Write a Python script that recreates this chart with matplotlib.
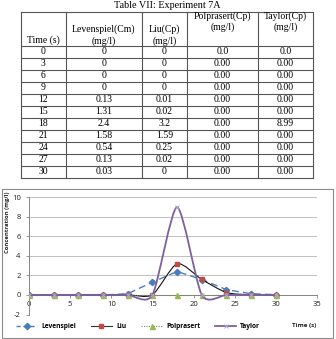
import matplotlib
matplotlib.use("Agg")
import matplotlib.pyplot as plt
import numpy as np
from matplotlib.path import Path
from matplotlib.patches import PathPatch, Rectangle
from matplotlib.lines import Line2D

# ---------------- data ----------------
time_s = [0, 3, 6, 9, 12, 15, 18, 21, 24, 27, 30]
levenspiel = [0, 0, 0, 0, 0.13, 1.31, 2.4, 1.58, 0.54, 0.13, 0.03]
liu = [0, 0, 0, 0, 0.01, 0.02, 3.2, 1.59, 0.25, 0.02, 0]
polprasert = [0, 0, 0, 0, 0, 0, 0, 0, 0, 0, 0]
taylor = [0, 0, 0, 0, 0, 0, 8.99, 0, 0, 0, 0]

table_title = "Table VII: Experiment 7A"
col_headers = [["Time (s)"], ["Levenspiel(Cm)", "(mg/l)"], ["Liu(Cp)", "(mg/l)"],
               ["Polprasert(Cp)", "(mg/l)"], ["Taylor(Cp)", "(mg/l)"]]
time_txt = [str(t) for t in time_s]
lev_txt = ["0", "0", "0", "0", "0.13", "1.31", "2.4", "1.58", "0.54", "0.13", "0.03"]
liu_txt = ["0", "0", "0", "0", "0.01", "0.02", "3.2", "1.59", "0.25", "0.02", "0"]
pol_txt = ["0.0"] + ["0.00"] * 10
tay_txt = ["0.0", "0.00", "0.00", "0.00", "0.00", "0.00", "8.99", "0.00", "0.00", "0.00", "0.00"]

series_names = ["Levenspiel", "Liu", "Polprasert", "Taylor"]
x_ticks = [0, 5, 10, 15, 20, 25, 30, 35]
y_ticks = [-2, 0, 2, 4, 6, 8, 10]

# ---------------- figure ----------------
W, H = 336, 339
plt.rcParams["font.family"] = ["Open Sans", "DejaVu Sans"]
fig = plt.figure(figsize=(W / 100, H / 100), dpi=100)

# overlay axes in pixel coordinates for table and chart frame
ov = fig.add_axes([0, 0, 1, 1])
ov.set_xlim(0, W)
ov.set_ylim(H, 0)
ov.axis("off")

serif = ["Liberation Serif", "DejaVu Serif"]
fs_tab = 7.0

ov.text(167.5, 5.5, table_title, ha="center", va="center", fontsize=7.3, family=serif)

col_x = [20.7, 66, 141.7, 187, 258, 313.3]
top, head_bot = 12.3, 45.7
row_h = 12.0
n_rows = len(time_s)
bottom = head_bot + row_h * n_rows
lc = "#555555"
for cx in col_x:
    ov.plot([cx, cx], [top, bottom], color=lc, lw=0.8)
ov.plot([col_x[0], col_x[-1]], [top, top], color=lc, lw=0.8)
ov.plot([col_x[0], col_x[-1]], [head_bot, head_bot], color=lc, lw=0.8)
for i in range(1, n_rows + 1):
    yy = head_bot + row_h * i
    ov.plot([col_x[0], col_x[-1]], [yy, yy], color=lc, lw=0.8)

centers = [(col_x[i] + col_x[i + 1]) / 2 for i in range(5)]
# header text
ov.text(centers[0], 40.3, col_headers[0][0], ha="center", va="center", fontsize=fs_tab, family=serif)
for j in (1, 2):
    ov.text(centers[j], 29.0, col_headers[j][0], ha="center", va="center", fontsize=fs_tab, family=serif)
    ov.text(centers[j], 40.7, col_headers[j][1], ha="center", va="center", fontsize=fs_tab, family=serif)
for j in (3, 4):
    ov.text(centers[j], 16.5, col_headers[j][0], ha="center", va="center", fontsize=fs_tab, family=serif)
    ov.text(centers[j], 27.5, col_headers[j][1], ha="center", va="center", fontsize=fs_tab, family=serif)

cols = [time_txt, lev_txt, liu_txt, pol_txt, tay_txt]
for i in range(n_rows):
    yc = head_bot + row_h * i + row_h / 2 + 0.3
    for j, col in enumerate(cols):
        ov.text(centers[j], yc, col[i], ha="center", va="center", fontsize=fs_tab, family=serif)

# chart frame
ov.add_patch(Rectangle((1.5, 189), 331.5, 149, fill=False, ec="#8c8c8c", lw=0.8))

# ---------------- chart ----------------
x0p, x1p = 29.0, 317.0
y_top, y_bot = 197.3, 314.5
ax = fig.add_axes([x0p / W, 1 - y_bot / H, (x1p - x0p) / W, (y_bot - y_top) / H])
ax.set_xlim(0, 35)
ax.set_ylim(-2, 10)
for s in ("top", "right"):
    ax.spines[s].set_visible(False)
ax.spines["bottom"].set_position(("data", 0))
ax.spines["bottom"].set_color("#868686")
ax.spines["left"].set_color("#868686")
ax.spines["bottom"].set_linewidth(0.7)
ax.spines["left"].set_linewidth(0.7)
ax.set_xticks(x_ticks)
ax.set_yticks(y_ticks)
ax.set_xticklabels([str(v) for v in x_ticks])
ax.set_yticklabels([str(v) for v in y_ticks])
ax.tick_params(axis="both", length=2, width=0.6, color="#868686", labelsize=5.5,
               labelcolor="#222222")
ax.tick_params(axis="x", pad=2.2)
ax.tick_params(axis="y", pad=4)
ax.grid(axis="y", color="#c0c0c0", lw=0.7)
ax.set_axisbelow(True)
ax.patch.set_alpha(0)


def smooth_path(xs, ys, k=0.12):
    pts = np.column_stack([xs, ys]).astype(float)
    n = len(pts)
    verts = [tuple(pts[0])]
    codes = [Path.MOVETO]
    for i in range(n - 1):
        p_prev = pts[i - 1] if i > 0 else pts[i]
        p_next2 = pts[i + 2] if i + 2 < n else pts[i + 1]
        c1 = pts[i] + (pts[i + 1] - p_prev) * k
        c2 = pts[i + 1] - (p_next2 - pts[i]) * k
        verts += [tuple(c1), tuple(c2), tuple(pts[i + 1])]
        codes += [Path.CURVE4] * 3
    return Path(verts, codes)


c_lev = "#4A7EBB"
c_liu = "#BE4B48"
c_pol = "#98B954"
c_tay = "#7D60A0"

ax.plot(time_s, levenspiel, color=c_lev, lw=1.0, dashes=(5, 3), marker="D", ms=3.2,
        mfc=c_lev, mec=c_lev, zorder=3)
ax.add_patch(PathPatch(smooth_path(time_s, liu), fill=False, ec="#111111", lw=0.8, zorder=3))
ax.plot(time_s, liu, ls="none", marker="s", ms=3.4, mfc=c_liu, mec=c_liu, zorder=4)
ax.plot(time_s, polprasert, color="#7a8a5a", lw=0.8, ls=(0, (1, 1.2)), marker="^", ms=3.6,
        mfc=c_pol, mec=c_pol, zorder=5)
ax.add_patch(PathPatch(smooth_path(time_s, taylor), fill=False, ec=c_tay, lw=1.3, zorder=6))
ax.plot(time_s, taylor, ls="none", marker="x", ms=3.2, mec="#b9a9d4", mew=0.7, zorder=7)

handles = [
    Line2D([], [], color=c_lev, lw=1.0, dashes=(3, 2), marker="D", ms=3.2, mfc=c_lev, mec=c_lev),
    Line2D([], [], color="#333333", lw=0.8, marker="s", ms=3.4, mfc=c_liu, mec=c_liu),
    Line2D([], [], color="#7a8a5a", lw=0.8, ls=(0, (1, 1.2)), marker="^", ms=3.6, mfc=c_pol, mec=c_pol),
    Line2D([], [], color=c_tay, lw=1.3, marker="x", ms=3.2, mec="#b9a9d4", mew=0.7),
]
fig.legend(handles, series_names, loc="center left", bbox_to_anchor=(10 / W, 1 - 327 / H),
           ncol=4, frameon=False, handlelength=3.2, handletextpad=0.6,
           columnspacing=2.2, prop={"weight": "bold", "size": 4.8})

ov.text(304, 325, "Time (s)", ha="center", va="center", fontsize=4.5,
        weight="bold", color="#222222")
ov.text(8, 222, "Concentration (mg/l)", ha="center", va="center", rotation=90,
        fontsize=4.2, weight="bold", color="#222222")

fig.savefig("out.png", dpi=100)
